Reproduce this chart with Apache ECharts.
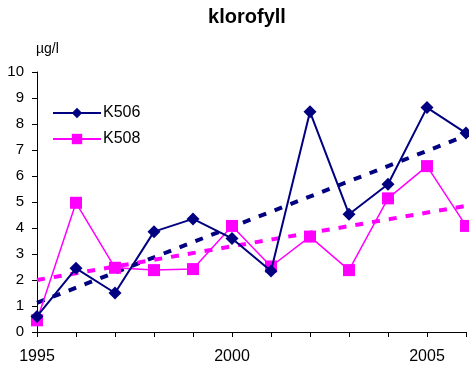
<!DOCTYPE html>
<html><head><meta charset="utf-8">
<script src="https://cdn.jsdelivr.net/npm/echarts@6/dist/echarts.min.js"></script>
<style>html,body{margin:0;padding:0;background:#fff}#c{width:469px;height:368px}</style>
</head><body><div id="c"></div>
<script>
const years = [1995,1996,1997,1998,1999,2000,2001,2002,2003,2004,2005,2006];
const k506 = [0.6,2.45,1.5,3.86,4.35,3.6,2.35,8.47,4.53,5.68,8.63,7.65];
const k508 = [0.45,4.97,2.47,2.38,2.42,4.08,2.52,3.67,2.38,5.14,6.38,4.08];
const trend506 = [[1995,1.12],[2006,7.55]];
const trend508 = [[1995,2.0],[2006,4.85]];
const yTicks = [0,1,2,3,4,5,6,7,8,9,10];
const xLabels = [1995,2000,2005];

const chart = echarts.init(document.getElementById('c'));
const font = 'Liberation Sans, Arial, sans-serif';
chart.setOption({
  animation:false,
  title:{text:'klorofyll', left:247, top:7, textAlign:'center', padding:0,
    textStyle:{fontFamily:font, fontWeight:'bold', fontSize:20, color:'#000'}},
  legend:{left:52, top:105, padding:0, orient:'vertical', itemWidth:48, itemHeight:13, itemGap:10,
    data:['K506','K508'], textStyle:{fontFamily:font, fontSize:16, color:'#000', padding:[0,0,0,-3]}},
  grid:{left:37, right:2, top:72, bottom:36},
  xAxis:{type:'value', min:1995, max:2006, interval:1,
    axisLine:{lineStyle:{color:'#000', width:1}},
    axisTick:{length:5, lineStyle:{color:'#000'}},
    splitLine:{show:false},
    axisLabel:{margin:17, fontFamily:font, fontSize:16, color:'#000',
      formatter:v=> xLabels.includes(v) ? String(v) : ''}},
  yAxis:{type:'value', min:0, max:10, interval:1,
    name:'µg/l', nameLocation:'end', nameGap:16,
    nameTextStyle:{fontFamily:font, fontSize:14, color:'#000', align:'left', padding:[0,0,0,-1]},
    axisLine:{show:true, lineStyle:{color:'#000', width:1}},
    axisTick:{show:true, length:5, lineStyle:{color:'#000'}},
    splitLine:{show:false},
    axisLabel:{margin:13, fontFamily:font, fontSize:15, color:'#000',
      formatter:v=> yTicks.includes(v) ? String(v) : ''}},
  series:[
    {name:'trend506', type:'line', data:trend506, symbol:'none', silent:true,
      lineStyle:{color:'#000080', width:4, type:[8,9]}, z:1},
    {name:'trend508', type:'line', data:trend508, symbol:'none', silent:true,
      lineStyle:{color:'#FF00FF', width:4, type:[8,9]}, z:1},
    {name:'K506', type:'line', data:years.map((y,i)=>[y,k506[i]]),
      symbol:'diamond', symbolSize:13, itemStyle:{color:'#000080'},
      lineStyle:{color:'#000080', width:2}, z:3},
    {name:'K508', type:'line', data:years.map((y,i)=>[y,k508[i]]),
      symbol:'rect', symbolSize:12, itemStyle:{color:'#FF00FF'},
      lineStyle:{color:'#FF00FF', width:1.5}, z:2}
  ]
});
</script></body></html>
